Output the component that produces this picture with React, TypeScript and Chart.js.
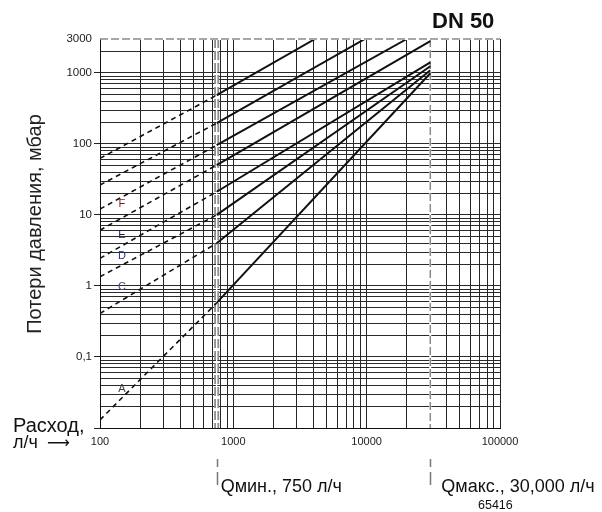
import { useEffect, useRef } from 'react';
import { Chart, registerables } from 'chart.js';
Chart.register(...registerables);

const X_MIN = 100;
const X_MAX = 100000;
const Y_MIN = 0.01;
const Y_MAX = 3000;
const Q_MIN = 750;
const Q_MAX = 30000;
const xTickLabels = [100, 1000, 10000, 100000];
const yTickLabels = [3000, 1000, 100, 10, 1, 0.1];

// curves: dashed from Q=100 to Qmin, solid from Qmin to end
const curveNames = ['', '', '', 'F', 'E', 'D', 'C', 'A'];
const dpAtStart = [62.5, 26.4, 12.1, 6.1, 2.45, 1.35, 0.41, 0.013];
const dpAtQmin = [486, 196, 96, 50.4, 21.2, 10, 4.0, 0.577];
const endFlow = [4100, 9700, 20000, 30000, 30000, 30000, 30000, 30000];
const endDp = [3000, 3000, 3000, 2800, 1410, 1240, 1090, 990];
const labelFlow = 146;
const labelDp = [0, 0, 0, 14.2, 5.2, 2.64, 0.97, 0.0356];
const labelColors = ['#000', '#000', '#000', '#7a1a1a', '#1c1c4c', '#1f2f7a', '#3a4a8a', '#3a3a4a'];

const FONT = "'Liberation Sans', Arial, sans-serif";

function logTicks(min: number, max: number) {
  const out: number[] = [];
  for (let e = -3; e <= 6; e++) {
    for (let m = 1; m <= 9; m++) {
      const v = Number((m * Math.pow(10, e)).toPrecision(3));
      if (v >= min - 1e-12 && v <= max + 1e-9) out.push(v);
    }
  }
  return out;
}

function isDecade(v: number) {
  const l = Math.log10(v);
  return Math.abs(l - Math.round(l)) < 1e-6;
}

export default function App() {
  const ref = useRef<HTMLCanvasElement>(null);
  useEffect(() => {
    if (!ref.current) return;
    const datasets: any[] = [];
    for (let i = 0; i < dpAtStart.length; i++) {
      datasets.push({
        data: [
          { x: X_MIN, y: dpAtStart[i] },
          { x: Q_MIN, y: dpAtQmin[i] },
        ],
        showLine: true,
        borderColor: '#111',
        borderWidth: 1.6,
        borderDash: [5, 4],
        pointRadius: 0,
      });
      datasets.push({
        data: [
          { x: Q_MIN, y: dpAtQmin[i] },
          { x: endFlow[i], y: endDp[i] },
        ],
        showLine: true,
        borderColor: '#111',
        borderWidth: 2,
        pointRadius: 0,
      });
    }

    const extras = {
      id: 'extras',
      beforeDatasetsDraw(chart: any) {
        const { ctx, chartArea: a, scales } = chart;
        const xq = scales.x.getPixelForValue(Q_MIN);
        ctx.save();
        ctx.strokeStyle = '#8c8c8c';
        ctx.lineWidth = 5;
        ctx.setLineDash([9, 3]);
        ctx.beginPath();
        ctx.moveTo(xq, a.top);
        ctx.lineTo(xq, a.bottom);
        ctx.stroke();
        ctx.setLineDash([]);
        ctx.strokeStyle = '#fff';
        ctx.lineWidth = 1.4;
        ctx.beginPath();
        ctx.moveTo(xq, a.top);
        ctx.lineTo(xq, a.bottom);
        ctx.stroke();
        const xm = scales.x.getPixelForValue(Q_MAX);
        ctx.fillStyle = '#fff';
        ctx.fillRect(xm - 1, a.top, 2, a.bottom - a.top);
        ctx.strokeStyle = '#8a8a8a';
        ctx.lineWidth = 1.5;
        ctx.setLineDash([8, 3]);
        ctx.beginPath();
        ctx.moveTo(xm, a.top);
        ctx.lineTo(xm, a.bottom);
        ctx.stroke();
        ctx.restore();
      },
      afterDraw(chart: any) {
        const { ctx, chartArea: a, scales } = chart;
        ctx.save();
        // top dashed border
        ctx.fillStyle = '#fff';
        ctx.fillRect(a.left + 1, a.top - 1, a.right - a.left - 2, 2);
        ctx.strokeStyle = '#8a8a8a';
        ctx.lineWidth = 1.5;
        ctx.setLineDash([8, 3]);
        ctx.beginPath();
        ctx.moveTo(a.left, a.top);
        ctx.lineTo(a.right, a.top);
        ctx.stroke();
        // annotation ticks under axis
        ctx.strokeStyle = '#777';
        ctx.lineWidth = 1.5;
        ctx.setLineDash([]);
        [Q_MIN, Q_MAX].forEach((q) => {
          const x = Math.round(scales.x.getPixelForValue(q)) + 0.5;
          ctx.beginPath();
          ctx.moveTo(x, 459);
          ctx.lineTo(x, 467);
          ctx.moveTo(x, 472);
          ctx.lineTo(x, 485);
          ctx.stroke();
        });
        ctx.fillStyle = '#111';
        ctx.textBaseline = 'alphabetic';
        ctx.textAlign = 'left';
        ctx.font = `18px ${FONT}`;
        ctx.fillText('Qмин., 750 л/ч', scales.x.getPixelForValue(Q_MIN) + 4, 492);
        ctx.fillText('Qмакс., 30,000 л/ч', scales.x.getPixelForValue(Q_MAX) + 11, 492);
        ctx.font = `12.5px ${FONT}`;
        ctx.fillText('65416', 478, 509);
        ctx.font = `bold 22px ${FONT}`;
        ctx.fillText('DN 50', 432, 28);
        ctx.font = `20px ${FONT}`;
        ctx.fillText('Расход,', 13, 432);
        ctx.font = `18px ${FONT}`;
        ctx.fillText('л/ч', 13, 448);
        ctx.font = `16px 'DejaVu Sans', ${FONT}`;
        ctx.fillText('\u27F6', 47, 448);
        // y title
        ctx.save();
        ctx.translate(41, 224);
        ctx.rotate(-Math.PI / 2);
        ctx.textAlign = 'center';
        ctx.font = `20px ${FONT}`;
        ctx.fillStyle = '#222';
        ctx.fillText('Потери давления, мбар', 0, 0);
        ctx.restore();
        // curve labels
        ctx.font = `11px ${FONT}`;
        ctx.textAlign = 'center';
        ctx.textBaseline = 'middle';
        curveNames.forEach((n, i) => {
          if (!n) return;
          ctx.fillStyle = labelColors[i];
          ctx.fillText(n, scales.x.getPixelForValue(labelFlow), scales.y.getPixelForValue(labelDp[i]));
        });
        ctx.restore();
      },
    };

    const chart = new Chart(ref.current, {
      type: 'scatter',
      data: { datasets },
      plugins: [extras],
      options: {
        animation: false,
        responsive: false,
        maintainAspectRatio: false,
        layout: { padding: { left: 0, right: 102, top: 39, bottom: 0 } },
        plugins: { legend: { display: false }, tooltip: { enabled: false } },
        scales: {
          x: {
            type: 'logarithmic',
            min: X_MIN,
            max: X_MAX,
            afterBuildTicks: (s: any) => {
              s.ticks = logTicks(X_MIN, X_MAX).map((v) => ({ value: v }));
            },
            afterFit: (s: any) => {
              s.height = 84;
            },
            ticks: {
              autoSkip: false,
              maxRotation: 0,
              padding: 7,
              color: '#222',
              font: { size: 11, family: FONT },
              callback: (v: any) => (xTickLabels.includes(Number(v)) ? String(v) : ''),
            },
            grid: { color: '#262626', lineWidth: 1, drawTicks: false },
            border: { color: '#111', width: 1 },
          },
          y: {
            type: 'logarithmic',
            min: Y_MIN,
            max: Y_MAX,
            afterBuildTicks: (s: any) => {
              s.ticks = logTicks(Y_MIN, Y_MAX).map((v) => ({ value: v }));
            },
            afterFit: (s: any) => {
              s.width = 100;
            },
            ticks: {
              autoSkip: false,
              padding: 2,
              color: '#222',
              font: { size: 11.5, family: FONT },
              callback: (v: any) => {
                const n = Number(v);
                if (!yTickLabels.includes(n)) return '';
                return String(n).replace('.', ',');
              },
            },
            grid: {
              color: (c: any) => (c.tick && c.tick.value === Y_MAX ? 'rgba(0,0,0,0)' : '#2a2a2a'),
              lineWidth: 1,
              tickLength: 6,
              tickColor: (c: any) =>
                c.tick && isDecade(c.tick.value) ? '#222' : 'rgba(0,0,0,0)',
            },
            border: { color: '#111', width: 1 },
          },
        },
      },
    });
    return () => chart.destroy();
  }, []);
  return (
    <div style={{ position: 'fixed', left: 0, top: 0, width: 602, height: 512, background: '#fff' }}>
      <canvas ref={ref} width={602} height={512} style={{ display: 'block' }} />
    </div>
  );
}
